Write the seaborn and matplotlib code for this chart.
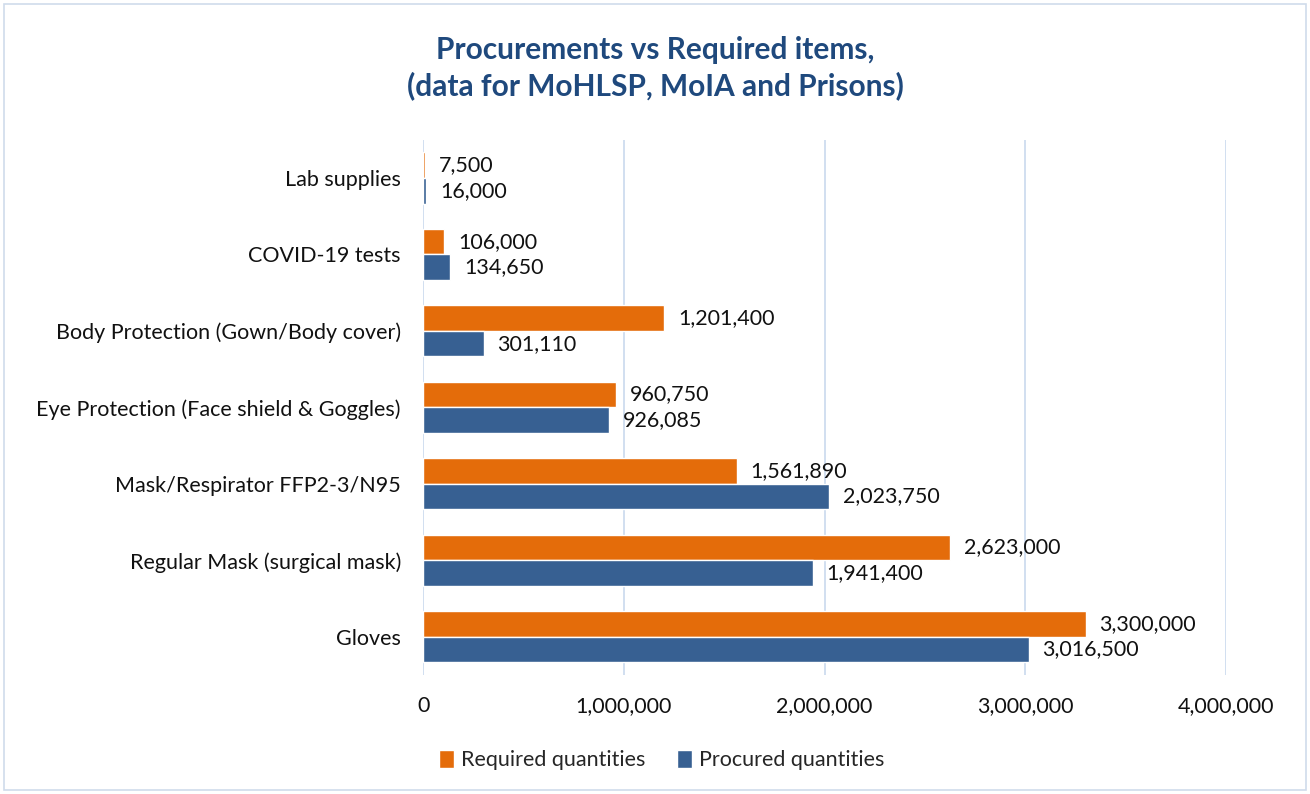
import pandas as pd
import matplotlib.pyplot as plt
import seaborn as sns
from matplotlib.patches import Rectangle

# Chart data
categories = [
    "Lab supplies",
    "COVID-19 tests",
    "Body Protection (Gown/Body cover)",
    "Eye Protection (Face shield & Goggles)",
    "Mask/Respirator FFP2-3/N95",
    "Regular Mask (surgical mask)",
    "Gloves",
]
required = [7500, 106000, 1201400, 960750, 1561890, 2623000, 3300000]
procured = [16000, 134650, 301110, 926085, 2023750, 1941400, 3016500]
series_names = ["Required quantities", "Procured quantities"]
x_ticks = [0, 1000000, 2000000, 3000000, 4000000]

df = pd.DataFrame({
    "Item": categories * 2,
    "Quantity": required + procured,
    "Series": [series_names[0]] * len(categories) + [series_names[1]] * len(categories),
})

sns.set_theme(style="white")
plt.rcParams["font.family"] = ["Lato", "DejaVu Sans"]

fig = plt.figure(figsize=(13.1, 7.94), dpi=100)
ax = fig.add_axes([0.323, 0.150, 0.613, 0.674])

sns.barplot(
    data=df, y="Item", x="Quantity", hue="Series",
    order=categories, hue_order=series_names,
    palette=["#E46C0A", "#376092"], orient="h",
    width=0.67, ax=ax, saturation=1, legend=True,
)

for container in ax.containers:
    ax.bar_label(container, labels=[f"{v:,.0f}" for v in container.datavalues],
                 padding=10, fontsize=15.5, color="#111111")

ax.set_xlim(0, 4000000)
ax.set_xticks(x_ticks)
ax.set_xticklabels([f"{t:,}" for t in x_ticks], fontsize=15.5, color="#111111")
ax.tick_params(axis="x", pad=15, length=0)
ax.tick_params(axis="y", pad=16, length=0, labelsize=15.5, labelcolor="#111111")
ax.set_xlabel("")
ax.set_ylabel("")
ax.grid(axis="x", color="#C9D9EE", linewidth=1.2)
ax.set_axisbelow(True)
for s in ax.spines.values():
    s.set_visible(False)

ax.legend(loc="center", bbox_to_anchor=(0.505, 0.043), bbox_transform=fig.transFigure,
          ncol=2, frameon=False, fontsize=15.5, handlelength=0.7, handleheight=0.9,
          handletextpad=0.3, columnspacing=1.5)

fig.suptitle("Procurements vs Required items,\n(data for MoHLSP, MoIA and Prisons)",
             x=0.5, y=0.955, fontsize=21.5, fontweight="bold", color="#1F497D", linespacing=1.3)

fig.patches.append(Rectangle((0.003, 0.005), 0.994, 0.99, transform=fig.transFigure,
                             fill=False, edgecolor="#D0DCEB", linewidth=1.2))

fig.savefig("out.png", dpi=100)
